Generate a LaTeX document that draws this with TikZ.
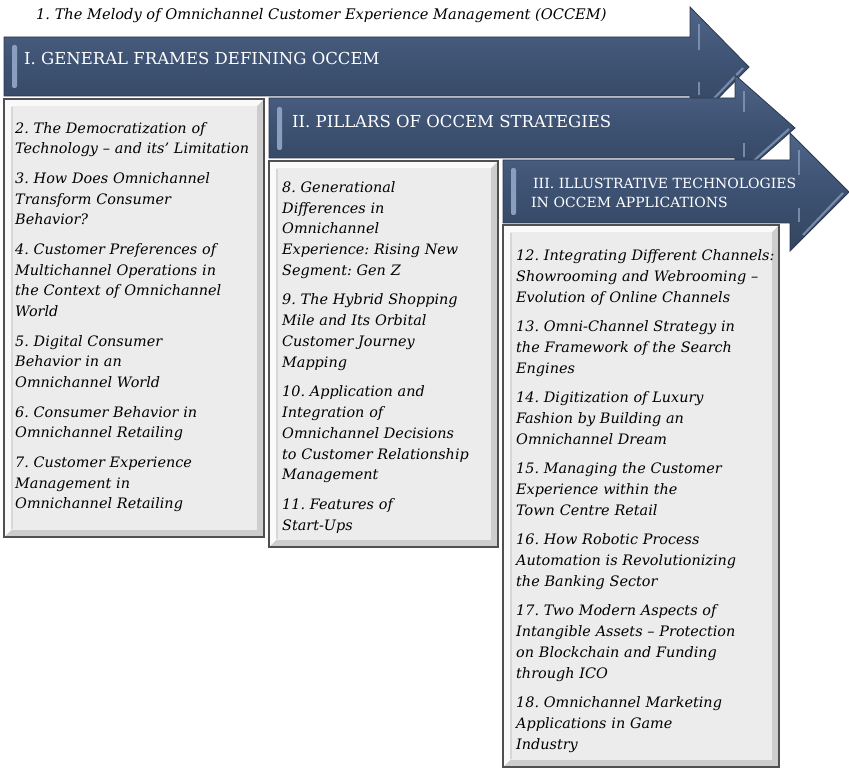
\documentclass[tikz,border=0pt]{standalone}
\usepackage{fontspec}
\setmainfont{DejaVu Serif}
\frenchspacing

\definecolor{bannertop}{HTML}{4F6587}
\definecolor{bannermid}{HTML}{3D5172}
\definecolor{bannerbot}{HTML}{33455F}
\definecolor{banneredge}{HTML}{2A3850}
\definecolor{bannerhi}{HTML}{8A9EBF}
\definecolor{panelface}{HTML}{ECECEC}
\definecolor{panellight}{HTML}{FAFAFA}
\definecolor{panelshade}{HTML}{CDCDCD}
\definecolor{paneledge}{HTML}{505050}

\tikzset{
  banner/.style={top color=bannertop, bottom color=bannerbot, middle color=bannermid,
                 draw=banneredge, line width=0.8pt, line join=miter},
  bevelbar/.style={fill=bannerhi, rounded corners=2pt},
  bevelstrip/.style={draw=bannerhi, opacity=0.75, line width=2.2pt},
  headtext/.style={text=white, inner sep=0pt, anchor=base west,
                   font=\fontsize{16.5}{20}\selectfont},
  subheadtext/.style={text=white, inner sep=0pt, anchor=north west, text width=300pt,
                      align=left, font=\fontsize{14}{19}\selectfont},
  itemtext/.style={inner sep=0pt, anchor=north west, text width=300pt, align=left,
                   text=black, font=\fontsize{14.4}{20.8}\selectfont\itshape},
  titletext/.style={inner sep=0pt, anchor=base west, text=black,
                    font=\fontsize{14.6}{18}\selectfont\itshape},
}

% bevelled grey panel given by its top-left and bottom-right corners
\newcommand\bevelpanel[4]{%
  \fill[panelshade] (#1,#2) rectangle (#3,#4);
  \fill[panellight] (#1,#2) -- (#3,#2) -- ({#3-7},{#2+7}) -- ({#1+7},{#2+7})
        -- ({#1+7},{#4-7}) -- (#1,#4) -- cycle;
  \fill[panelface] ({#1+7},{#2+7}) rectangle ({#3-7},{#4-7});
  \draw[panelshade!80!white, line width=1.5pt] ({#1+8},{#2+8}) -- ({#1+8},{#4-8});
  \draw[paneledge, line width=1.3pt] (#1,#2) rectangle (#3,#4);
}

\begin{document}
\begin{tikzpicture}[x=1pt,y=-1pt]
\useasboundingbox (0,0) rectangle (849,770);

% heading line
\node[titletext] (title) at (36,20)
  {1. The Melody of Omnichannel Customer Experience Management (OCCEM)};

% ---- first banner and its panel
\path[banner] (4,37) -- (690,37) -- (690,7) -- (749,67) -- (690,127) -- (690,96) -- (4,96) -- cycle;
\fill[bevelbar] (12,45) rectangle (17,88);
\draw[bevelstrip] (699,24) -- (699,50);
\draw[bevelstrip] (699,82) -- (699,95);
\draw[bevelstrip] (703,110) -- (743,68);
\node[headtext] (h1) at (24,65) {I. GENERAL FRAMES DEFINING OCCEM};

\bevelpanel{4}{99}{264}{537}
\node[itemtext] (c1) at (15,118.4) {\strut 2. The Democratization of\\
Technology – and its’ Limitation\\[8.6pt]
3. How Does Omnichannel\\
Transform Consumer\\
Behavior?\\[8.6pt]
4. Customer Preferences of\\
Multichannel Operations in\\
the Context of Omnichannel\\
World\\[8.6pt]
5. Digital Consumer\\
Behavior in an\\
Omnichannel World\\[8.6pt]
6. Consumer Behavior in\\
Omnichannel Retailing\\[8.6pt]
7. Customer Experience\\
Management in\\
Omnichannel Retailing};

% ---- second banner and its panel
\path[banner] (269,98) -- (735,98) -- (735,75) -- (795,128) -- (735,181) -- (735,158) -- (269,158) -- cycle;
\fill[bevelbar] (277,107) rectangle (282,150);
\draw[bevelstrip] (744,91) -- (744,112);
\draw[bevelstrip] (744,143) -- (744,157);
\draw[bevelstrip] (748,166) -- (789,129);
\node[headtext] (h2) at (292,128) {II. PILLARS OF OCCEM STRATEGIES};

\bevelpanel{269}{161}{498}{547}
\node[itemtext] (c2) at (282,177.6) {\strut 8. Generational\\
Differences in\\
Omnichannel\\
Experience: Rising New\\
Segment: Gen Z\\[8.6pt]
9. The Hybrid Shopping\\
Mile and Its Orbital\\
Customer Journey\\
Mapping\\[8.6pt]
10. Application and\\
Integration of\\
Omnichannel Decisions\\
to Customer Relationship\\
Management\\[8.6pt]
11. Features of\\
Start-Ups};

% ---- third banner and its panel
\path[banner] (503,160) -- (790,160) -- (790,133) -- (849,192) -- (790,251) -- (790,223) -- (503,223) -- cycle;
\fill[bevelbar] (511,168) rectangle (516,215);
\draw[bevelstrip] (799,150) -- (799,175);
\draw[bevelstrip] (799,208) -- (799,222);
\draw[bevelstrip] (803,235) -- (843,193);
\node[subheadtext] (h3) at (533,174.7) {\strut III. ILLUSTRATIVE TECHNOLOGIES\\
\hspace*{-2pt}IN OCCEM APPLICATIONS};

\bevelpanel{503}{225}{779}{767}
\node[itemtext] (c3) at (516,246.1) {\strut 12. Integrating Different Channels:\\
Showrooming and Webrooming –\\
Evolution of Online Channels\\[8.6pt]
13. Omni-Channel Strategy in\\
the Framework of the Search\\
Engines\\[8.6pt]
14. Digitization of Luxury\\
Fashion by Building an\\
Omnichannel Dream\\[8.6pt]
15. Managing the Customer\\
Experience within the\\
Town Centre Retail\\[8.6pt]
16. How Robotic Process\\
Automation is Revolutionizing\\
the Banking Sector\\[8.6pt]
17. Two Modern Aspects of\\
Intangible Assets – Protection\\
on Blockchain and Funding\\
through ICO\\[8.6pt]
18. Omnichannel Marketing\\
Applications in Game\\
Industry};

\end{tikzpicture}
\end{document}
